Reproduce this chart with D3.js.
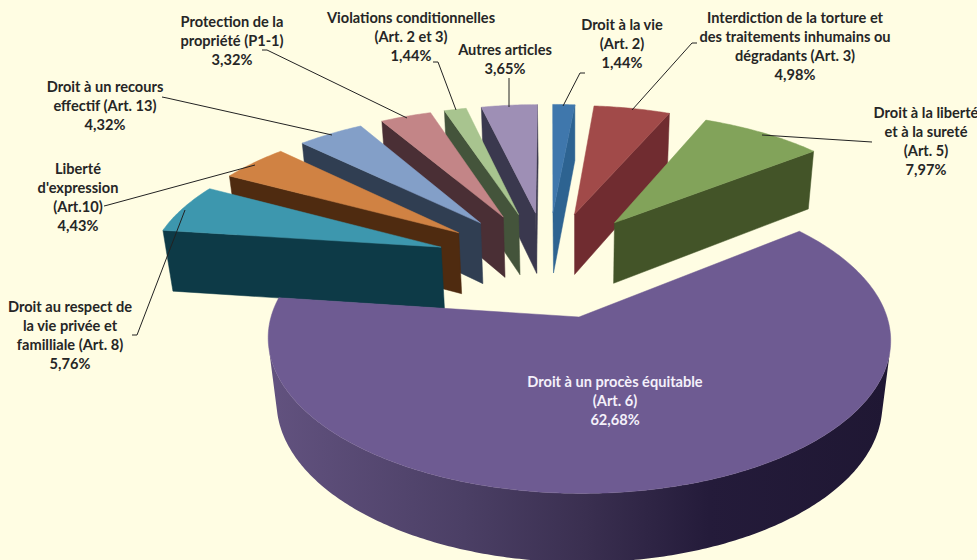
<!DOCTYPE html>
<html>
<head>
<meta charset="UTF-8">
<title>Violations par article</title>
<style>
html, body { margin: 0; padding: 0; background: #fffde3; overflow: hidden; }
text { font-family: Lato, "Open Sans", sans-serif; font-weight: 700; font-size: 14.6px; }
</style>
</head>
<body>
<div id="chart"></div>
<script src="https://cdn.jsdelivr.net/npm/d3@7"></script>
<script>
var articles = ["Art. 2", "Art. 3", "Art. 5", "Art. 6", "Art. 8", "Art. 10", "Art. 13", "P1-1", "Art. 2 et 3", "Autres"];
var values = [1.44, 4.98, 7.97, 62.68, 5.76, 4.43, 4.32, 3.32, 1.44, 3.65];
var topColors = ["#3f77ac", "#a14a49", "#82a35a", "#6e5b92", "#3d97ae", "#d08243", "#839fc8", "#c38587", "#a8c48f", "#9e8fb5"];
var wallColors = ["#2d6391", "#702c30", "#435428", "#3a2f50", "#0d3a47", "#4f2b10", "#303e52", "#4a2f35", "#44543b", "#3a384e"];

// text blocks, same order as the slices
var labels = [
	["Droit à la vie", "(Art. 2)", "1,44%"],
	["Interdiction de la torture et", "des traitements inhumains ou", "dégradants (Art. 3)", "4,98%"],
	["Droit à la liberté", "et à la sureté", "(Art. 5)", "7,97%"],
	["Droit à un procès équitable", "(Art. 6)", "62,68%"],
	["Droit au respect de", "la vie privée et", "familliale (Art. 8)", "5,76%"],
	["Liberté", "d'expression", "(Art.10)", "4,43%"],
	["Droit à un recours", "effectif (Art. 13)", "4,32%"],
	["Protection de la", "propriété (P1-1)", "3,32%"],
	["Violations conditionnelles", "(Art. 2 et 3)", "1,44%"],
	["Autres articles", "3,65%"]
];
var labelX = [622, 795, 926, 615, 70, 78, 105, 232, 411, 505];
var labelY = [25, 18, 113, 382, 307, 169, 87, 22, 18, 50];
var leaders = [
	[[563, 106], [580, 73], [585, 73]],
	[[632, 110], [692, 43], [697, 43]],
	[[762, 135], [872, 142]],
	null,
	[[185, 210], [137, 335], [132, 335]],
	[[255, 165], [108, 205], [104, 206]],
	[[332, 135], [167, 98], [162, 97]],
	[[407, 118], [267, 50], [262, 50]],
	[[456, 110], [438, 62], [433, 62]],
	[[509, 107], [509, 78]]
];

var width = 977,
	height = 560;

// perspective of the pie, fitted on the picture. x and t are in pie radiuses, t goes away from the viewer
var originX = 579,
	originY = 317,
	scaleX = 308,
	scaleY = 151,
	tilt = 0.144,
	shear = -3,
	depthW = 0.027,
	depthY = 65.6,
	explode = 0.39;

function project(x, t, bottom) {
	var h = bottom ? 1 : 0;
	var w = 1 + tilt * t + depthW * h;
	return [originX + shear * t + scaleX * x / w, originY + (-scaleY * t + depthY * h) / w];
}

var svg = d3.select("#chart")
	.append("svg")
	.attr("width", width)
	.attr("height", height);

svg.append("rect")
	.attr("width", width)
	.attr("height", height)
	.attr("fill", "#fffde3");

// shading of the big slice's rim, dark towards the right
var rimStops = [[270, "#62527f"], [464, "#4b3f65"], [587, "#3a2f50"], [709, "#241b3a"], [890, "#1f1733"]];
var rimGradient = svg.append("defs")
	.append("linearGradient")
	.attr("id", "rim")
	.attr("gradientUnits", "userSpaceOnUse")
	.attr("x1", 270)
	.attr("x2", 890)
	.attr("y1", 0)
	.attr("y2", 0);
rimStops.forEach(function(s) {
	rimGradient.append("stop")
		.attr("offset", (s[0] - 270) / 620)
		.attr("stop-color", s[1]);
});

var line = d3.line();
var pie = d3.pie().sort(null);
var slices = pie(values);

// centre of the whole pie, found from the apex of the big slice
var big = slices[3];
var bigMid = (big.startAngle + big.endAngle) / 2;
var centerX = -explode * Math.sin(bigMid);
var centerT = -explode * Math.cos(bigMid);

slices.forEach(function(d) {
	var mid = (d.startAngle + d.endAngle) / 2;
	d.ax = centerX + explode * Math.sin(mid);
	d.at = centerT + explode * Math.cos(mid);
});

function rimPoint(d, angle, bottom) {
	return project(d.ax + Math.sin(angle), d.at + Math.cos(angle), bottom);
}

// far slices first
var order = d3.range(slices.length).sort(function(a, b) {
	return slices[b].at - slices[a].at;
});

function wall(pts, color) {
	svg.append("path")
		.attr("d", line(pts) + "Z")
		.attr("fill", color)
		.attr("stroke", color)
		.attr("stroke-width", 0.5);
}

order.forEach(function(i) {
	var d = slices[i];
	var apexTop = project(d.ax, d.at, false);
	var apexBottom = project(d.ax, d.at, true);
	var a0 = d.startAngle,
		a1 = d.endAngle;

	// radial walls, only those turned to the viewer
	var startWall = [apexTop, rimPoint(d, a0, false), rimPoint(d, a0, true), apexBottom];
	var endWall = [apexTop, rimPoint(d, a1, false), rimPoint(d, a1, true), apexBottom];
	if (d3.polygonArea(startWall) > 0) wall(startWall, wallColors[i]);
	if (d3.polygonArea(endWall) < 0) wall(endWall, wallColors[i]);

	// outer rim, one shape made of the pieces that face the viewer
	var n = Math.max(4, Math.ceil((a1 - a0) / 0.012));
	var outline = [apexTop];
	var rimTop = [],
		rimBottom = [];
	d3.range(n + 1).forEach(function(k) {
		outline.push(rimPoint(d, a0 + (a1 - a0) * k / n, false));
	});
	d3.range(n).forEach(function(k) {
		var b0 = a0 + (a1 - a0) * k / n,
			b1 = a0 + (a1 - a0) * (k + 1) / n;
		var seg = [rimPoint(d, b0, false), rimPoint(d, b1, false), rimPoint(d, b1, true), rimPoint(d, b0, true)];
		if (d3.polygonArea(seg) > 0) {
			if (!rimTop.length) {
				rimTop.push(seg[0]);
				rimBottom.push(seg[3]);
			}
			rimTop.push(seg[1]);
			rimBottom.push(seg[2]);
		}
	});
	if (rimTop.length) {
		svg.append("path")
			.attr("d", line(rimTop.concat(rimBottom.reverse())) + "Z")
			.attr("fill", i === 3 ? "url(#rim)" : wallColors[i]);
	}

	svg.append("path")
		.attr("d", line(outline) + "Z")
		.attr("fill", topColors[i])
		.attr("stroke", topColors[i])
		.attr("stroke-width", 0.5);
});

// leader lines
leaders.forEach(function(pts) {
	if (!pts) return;
	svg.append("path")
		.attr("d", line(pts))
		.attr("fill", "none")
		.attr("stroke", "#222")
		.attr("stroke-width", 1);
});

// labels
labels.forEach(function(lines, i) {
	var t = svg.append("text")
		.attr("text-anchor", "middle")
		.attr("fill", i === 3 ? "#f4f0fa" : "#262626");
	lines.forEach(function(s, k) {
		t.append("tspan")
			.attr("x", labelX[i])
			.attr("y", labelY[i] + 5 + k * 19)
			.text(s);
	});
});
</script>
</body>
</html>
